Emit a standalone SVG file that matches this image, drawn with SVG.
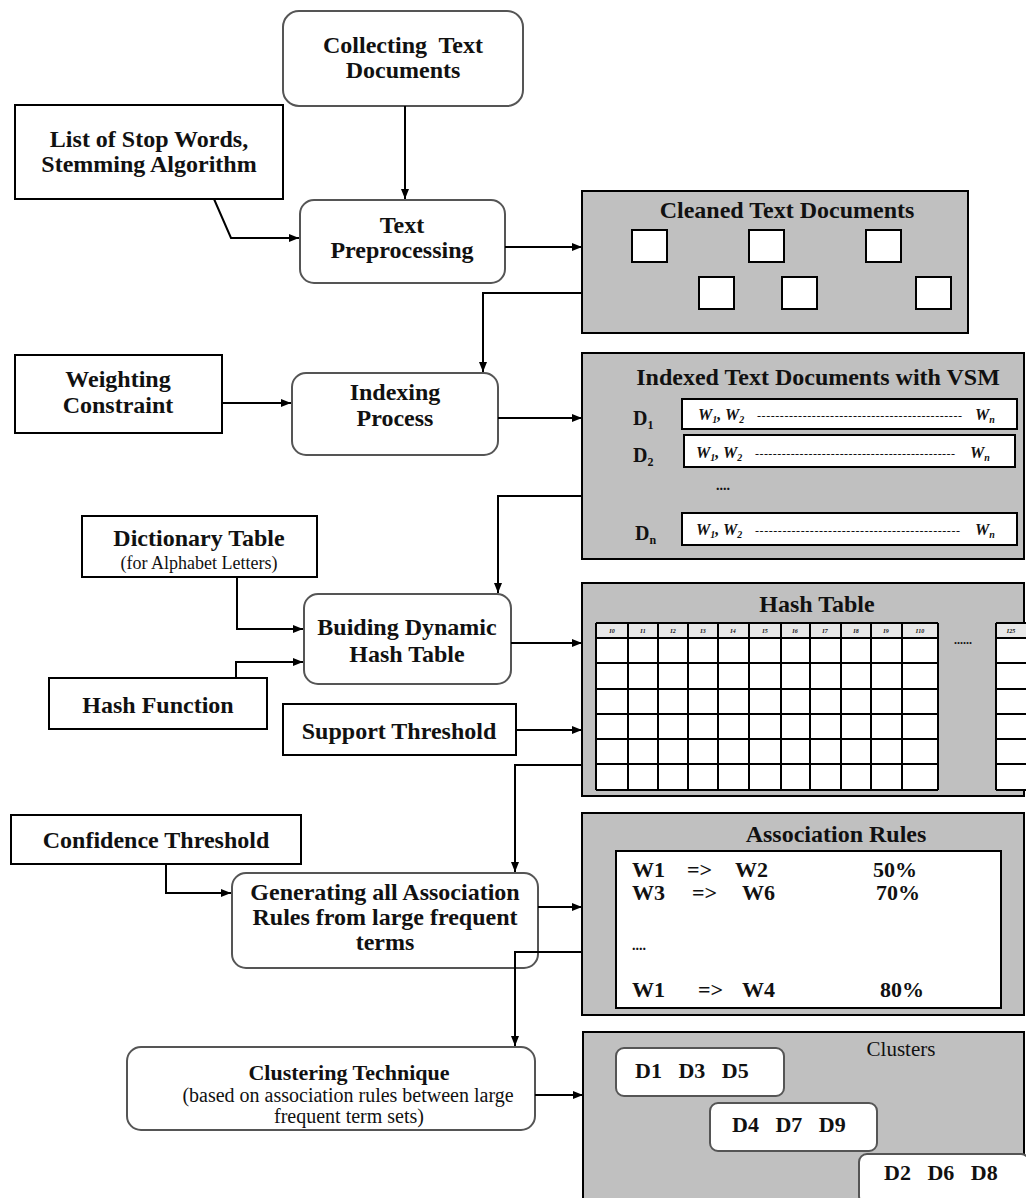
<svg xmlns="http://www.w3.org/2000/svg" width="1026" height="1198" viewBox="0 0 1026 1198">
<defs>
<marker id="ah" viewBox="0 0 10 8" refX="10" refY="4" markerWidth="10" markerHeight="8" markerUnits="userSpaceOnUse" orient="auto"><path d="M0,0 L10,4 L0,8 z" fill="#000"/></marker>
<style>
.t{font-family:"Liberation Serif","Times New Roman",serif;font-weight:bold;font-size:24px;text-anchor:middle;fill:#111;white-space:pre}
.r{font-family:"Liberation Serif","Times New Roman",serif;font-weight:normal;font-size:20px;text-anchor:middle;fill:#111;white-space:pre}
.l{font-family:"Liberation Serif","Times New Roman",serif;font-weight:bold;font-size:22px;fill:#111;white-space:pre}
.w{font-family:"Liberation Serif","Times New Roman",serif;font-weight:bold;font-style:italic;font-size:16px;fill:#111}
.dash{font-family:"Liberation Serif","Times New Roman",serif;font-size:12px;fill:#111}
.hd{font-family:"Liberation Serif","Times New Roman",serif;font-weight:bold;font-style:italic;font-size:6px;text-anchor:middle;fill:#111}
.node{fill:#fff;stroke:#555;stroke-width:2}
.box{fill:#fff;stroke:#000;stroke-width:2}
.panel{fill:#c0c0c0;stroke:#000;stroke-width:2}
.sq{fill:#fff;stroke:#000;stroke-width:2}
.grid{stroke:#000;stroke-width:2;fill:none}
.conn{fill:none;stroke:#000;stroke-width:2}
</style>
</defs>
<rect width="1026" height="1198" fill="#fff"/>

<g id="collecting">
<rect class="node" x="283" y="11" width="240" height="95" rx="16"/>
<text class="t" x="403" y="53">Collecting  Text</text>
<text class="t" x="403" y="78">Documents</text>
</g>

<g id="stopwords">
<rect class="box" x="15" y="105" width="268" height="94"/>
<text class="t" x="149" y="147">List of Stop Words,</text>
<text class="t" x="149" y="172">Stemming Algorithm</text>
</g>

<g id="preprocessing">
<rect class="node" x="300" y="200" width="205" height="83" rx="14"/>
<text class="t" x="402" y="233">Text</text>
<text class="t" x="402" y="258">Preprocessing</text>
</g>

<g id="cleaned">
<rect class="panel" x="582" y="191" width="386" height="142"/>
<text class="t" x="787" y="218">Cleaned Text Documents</text>
<rect class="sq" x="632" y="230" width="35" height="32"/>
<rect class="sq" x="749" y="230" width="35" height="32"/>
<rect class="sq" x="866" y="230" width="35" height="32"/>
<rect class="sq" x="699" y="277" width="35" height="32"/>
<rect class="sq" x="782" y="277" width="35" height="32"/>
<rect class="sq" x="916" y="277" width="35" height="32"/>
</g>

<g id="weighting">
<rect class="box" x="15" y="355" width="207" height="78"/>
<text class="t" x="118" y="387">Weighting</text>
<text class="t" x="118" y="413">Constraint</text>
</g>

<g id="indexing">
<rect class="node" x="292" y="373" width="206" height="82" rx="14"/>
<text class="t" x="395" y="400">Indexing</text>
<text class="t" x="395" y="426">Process</text>
</g>

<g id="indexed">
<rect class="panel" x="582" y="353" width="442" height="206"/>
<text class="t" x="818" y="385">Indexed Text Documents with VSM</text>
<text class="l" x="633" y="425" style="font-size:20px">D<tspan font-size="12" dy="4">1</tspan></text>
<text class="l" x="633" y="462" style="font-size:20px">D<tspan font-size="12" dy="4">2</tspan></text>
<text class="l" x="635" y="540" style="font-size:20px">D<tspan font-size="12" dy="4">n</tspan></text>
<rect class="box" x="682" y="399" width="335" height="30"/>
<rect class="box" x="684" y="435" width="331" height="32"/>
<rect class="box" x="682" y="513" width="335" height="32"/>
<text class="w" x="698" y="420">W<tspan font-size="10" dy="3">1</tspan><tspan dy="-3">, W</tspan><tspan font-size="10" dy="3">2</tspan></text>
<text class="dash" x="757" y="420" textLength="205" lengthAdjust="spacing">---------------------------------------------</text>
<text class="w" x="975" y="420">W<tspan font-size="10" dy="3">n</tspan></text>
<text class="w" x="696" y="458">W<tspan font-size="10" dy="3">1</tspan><tspan dy="-3">, W</tspan><tspan font-size="10" dy="3">2</tspan></text>
<text class="dash" x="755" y="458" textLength="200" lengthAdjust="spacing">---------------------------------------------</text>
<text class="w" x="970" y="458">W<tspan font-size="10" dy="3">n</tspan></text>
<text class="l" x="716" y="490" style="font-size:14px">....</text>
<text class="w" x="696" y="535">W<tspan font-size="10" dy="3">1</tspan><tspan dy="-3">, W</tspan><tspan font-size="10" dy="3">2</tspan></text>
<text class="dash" x="755" y="535" textLength="205" lengthAdjust="spacing">---------------------------------------------</text>
<text class="w" x="975" y="535">W<tspan font-size="10" dy="3">n</tspan></text>
</g>

<g id="dictionary">
<rect class="box" x="82" y="516" width="235" height="61"/>
<text class="t" x="199" y="546">Dictionary Table</text>
<text class="r" x="199" y="569" style="font-size:18px">(for Alphabet Letters)</text>
</g>

<g id="building">
<rect class="node" x="304" y="594" width="207" height="90" rx="14"/>
<text class="t" x="407" y="635">Buiding Dynamic</text>
<text class="t" x="407" y="662">Hash Table</text>
</g>

<g id="hashfunction">
<rect class="box" x="49" y="678" width="218" height="51"/>
<text class="t" x="158" y="713">Hash Function</text>
</g>

<g id="support">
<rect class="box" x="283" y="704" width="233" height="51"/>
<text class="t" x="399" y="739">Support Threshold</text>
</g>

<g id="hashtable">
<rect class="panel" x="582" y="583" width="442" height="213"/>
<text class="t" x="817" y="612">Hash Table</text>
<rect x="596" y="623" width="342" height="15" fill="#e8e8e8"/>
<rect x="596" y="638" width="342" height="152" fill="#fff"/>
<rect x="996" y="623" width="32" height="15" fill="#e8e8e8"/>
<rect x="996" y="638" width="32" height="152" fill="#fff"/>
<path class="grid" d="M596,623H938M596,638H938M596,663H938M596,689H938M596,714H938M596,739H938M596,764H938M596,790H938
M596,623V790M628,623V790M658,623V790M688,623V790M718,623V790M749,623V790M781,623V790M810,623V790M841,623V790M871,623V790M902,623V790M938,623V790
M996,623H1030M996,638H1030M996,663H1030M996,689H1030M996,714H1030M996,739H1030M996,764H1030M996,790H1030M996,623V790"/>
<text class="hd" x="612" y="633">I0</text>
<text class="hd" x="643" y="633">I1</text>
<text class="hd" x="673" y="633">I2</text>
<text class="hd" x="703" y="633">I3</text>
<text class="hd" x="733" y="633">I4</text>
<text class="hd" x="765" y="633">I5</text>
<text class="hd" x="795" y="633">I6</text>
<text class="hd" x="825" y="633">I7</text>
<text class="hd" x="856" y="633">I8</text>
<text class="hd" x="886" y="633">I9</text>
<text class="hd" x="920" y="633">I10</text>
<text class="hd" x="1011" y="633">I25</text>
<text class="t" x="963" y="644" style="font-size:12px">......</text>
</g>

<g id="confidence">
<rect class="box" x="11" y="815" width="290" height="49"/>
<text class="t" x="156" y="848">Confidence Threshold</text>
</g>

<g id="generating">
<rect class="node" x="232" y="873" width="306" height="95" rx="14"/>
<text class="t" x="385" y="900">Generating all Association</text>
<text class="t" x="385" y="925">Rules from large frequent</text>
<text class="t" x="385" y="950">terms</text>
</g>

<g id="association">
<rect class="panel" x="582" y="813" width="442" height="202"/>
<text class="t" x="836" y="842">Association Rules</text>
<rect class="box" x="616" y="851" width="385" height="157"/>
<text class="l" y="877"><tspan x="632">W1</tspan><tspan x="687">=&gt;</tspan><tspan x="735">W2</tspan><tspan x="873">50%</tspan></text>
<text class="l" y="900"><tspan x="632">W3</tspan><tspan x="692">=&gt;</tspan><tspan x="742">W6</tspan><tspan x="876">70%</tspan></text>
<text class="l" x="632" y="950" style="font-size:14px">....</text>
<text class="l" y="997"><tspan x="632">W1</tspan><tspan x="698">=&gt;</tspan><tspan x="742">W4</tspan><tspan x="880">80%</tspan></text>
</g>

<g id="clustering">
<rect class="node" x="127" y="1047" width="408" height="83" rx="14"/>
<text class="t" x="349" y="1080" style="font-size:22px">Clustering Technique</text>
<text class="r" x="348" y="1102">(based on association rules between large</text>
<text class="r" x="349" y="1123">frequent term sets)</text>
</g>

<g id="clusters">
<rect class="panel" x="583" y="1032" width="441" height="180"/>
<text class="r" x="901" y="1056" style="font-size:21px">Clusters</text>
<rect class="node" x="616" y="1048" width="168" height="48" rx="8"/>
<text class="l" x="635" y="1078">D1   D3   D5</text>
<rect class="node" x="710" y="1103" width="167" height="48" rx="8"/>
<text class="l" x="732" y="1132">D4   D7   D9</text>
<rect class="node" x="859" y="1154" width="170" height="50" rx="8"/>
<text class="l" x="884" y="1180">D2   D6   D8</text>
</g>

<g id="connectors">
<path class="conn" d="M405,106V199" marker-end="url(#ah)"/>
<path class="conn" d="M214,199L231,238H299" marker-end="url(#ah)"/>
<path class="conn" d="M505,247H582" marker-end="url(#ah)"/>
<path class="conn" d="M582,293H483V372" marker-end="url(#ah)"/>
<path class="conn" d="M222,403H291" marker-end="url(#ah)"/>
<path class="conn" d="M498,418H582" marker-end="url(#ah)"/>
<path class="conn" d="M582,496H498V593" marker-end="url(#ah)"/>
<path class="conn" d="M237,577V629H303" marker-end="url(#ah)"/>
<path class="conn" d="M236,678V662H303" marker-end="url(#ah)"/>
<path class="conn" d="M511,643H582" marker-end="url(#ah)"/>
<path class="conn" d="M516,730H582" marker-end="url(#ah)"/>
<path class="conn" d="M582,765H515V872" marker-end="url(#ah)"/>
<path class="conn" d="M166,864V893H231" marker-end="url(#ah)"/>
<path class="conn" d="M538,907H582" marker-end="url(#ah)"/>
<path class="conn" d="M582,952H515V1046" marker-end="url(#ah)"/>
<path class="conn" d="M535,1095H583" marker-end="url(#ah)"/>
</g>
</svg>
